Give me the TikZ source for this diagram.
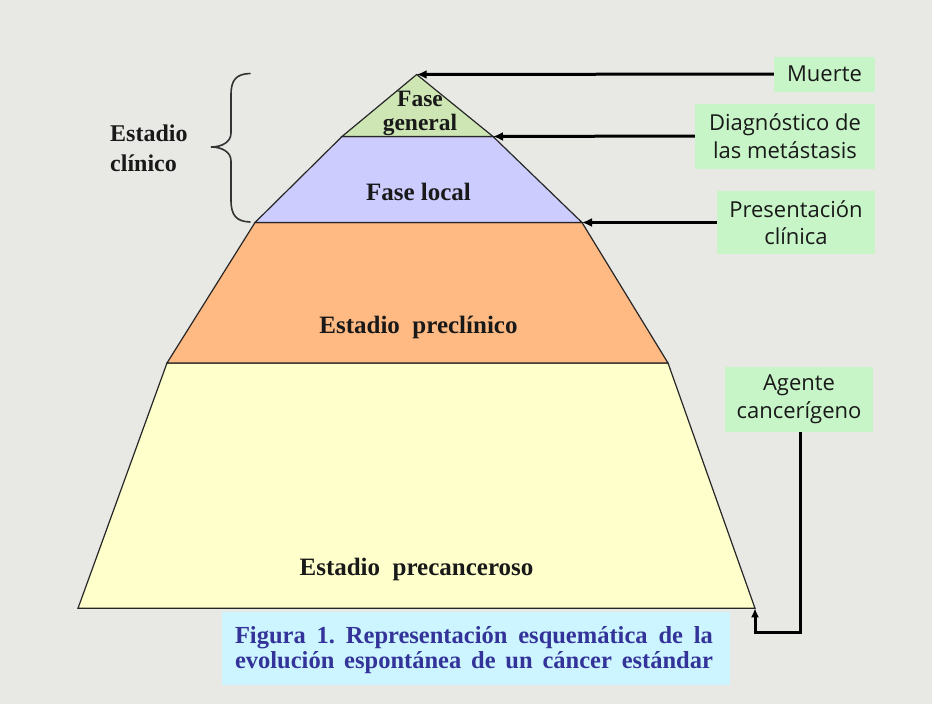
\documentclass[tikz,border=0pt]{standalone}
\usepackage{fontspec}
\setmainfont{Liberation Serif}
\newfontfamily\labfont{Open Sans}
\usetikzlibrary{arrows.meta}
\frenchspacing
\definecolor{bgc}{HTML}{E8E8E5}
\definecolor{cgen}{HTML}{CDE6B4}
\definecolor{cloc}{HTML}{CCCCFF}
\definecolor{cpre}{HTML}{FFB982}
\definecolor{ccan}{HTML}{FFFFCC}
\definecolor{clab}{HTML}{C8F5C8}
\definecolor{ccap}{HTML}{CCF5FF}
\definecolor{ctxt}{HTML}{333399}
\tikzset{
  layer/.style={draw=black!85, line width=1.2pt, line join=miter},
  stagetext/.style={font=\fontsize{25}{23}\selectfont\bfseries, text=black!90, align=center, anchor=base, inner sep=0pt},
  lab/.style={fill=clab, draw=none, font=\labfont\fontsize{22}{27.5}\selectfont, text=black!90, align=center, inner sep=0pt},
  conn/.style={line width=3pt, black, -{Latex[length=10pt,width=9pt]}},
}
\begin{document}
\begin{tikzpicture}[x=1pt,y=-1pt]
\fill[bgc] (0,0) rectangle (932,704);
\useasboundingbox (0,0) rectangle (932,704);
% pyramid corners
\coordinate (A) at (416.7,74.5);
\coordinate (GL) at (342,136.5);
\coordinate (GR) at (493,136.5);
\coordinate (LL) at (255,222.5);
\coordinate (LR) at (582,222.5);
\coordinate (PL) at (167,363);
\coordinate (PR) at (668,363);
\coordinate (BL) at (78,608.3);
\coordinate (BR) at (755,608.3);
\filldraw[layer, fill=ccan] (PL) -- (PR) -- (BR) -- (BL) -- cycle;
\filldraw[layer, fill=cpre] (LL) -- (LR) -- (PR) -- (PL) -- cycle;
\filldraw[layer, fill=cloc] (GL) -- (GR) -- (LR) -- (LL) -- cycle;
\filldraw[layer, fill=cgen] (A) -- (GR) -- (GL) -- cycle;
% stage texts
\node[stagetext, font=\fontsize{23.5}{23.3}\selectfont\bfseries] (tgen) at (420,130) {Fase\\general};
\node[stagetext] (tloc) at (418.5,200) {Fase local};
\node[stagetext] (tpre) at (418.5,333) {Estadio\ \ preclínico};
\node[stagetext] (tcan) at (416.5,575) {Estadio\ \ precanceroso};
% estadio clinico
\node[stagetext, align=left, anchor=base west, font=\fontsize{24}{30}\selectfont\bfseries] (tcli) at (110,171.7) {Estadio\\clínico};
\draw[line width=1.6pt, black!80, line cap=round]
  (250,73.5) .. controls (236,74) and (231,80) .. (231,95)
  -- (231,133) .. controls (231,142) and (222,147) .. (211,147)
  .. controls (222,147) and (231,152) .. (231,161)
  -- (231,200) .. controls (231,215) and (236,221.5) .. (250,222);
% labels
\node[lab, minimum width=101pt, minimum height=35pt] (muerte) at (824.5,74) {Muerte};
\node[lab, minimum width=180pt, minimum height=65pt] (diag) at (785,136) {Diagnóstico de\\las metástasis};
\node[lab, minimum width=158pt, minimum height=63pt] (pres) at (796,222.5) {Presentación\\clínica};
\node[lab, minimum width=148pt, minimum height=65pt] (agen) at (799,399.5) {Agente\\cancerígeno};
% arrows
\draw[conn] (muerte.west) -- (A);
\draw[conn] (diag.west) -- (GR);
\draw[conn] (pres.west) -- (LR);
\coordinate (k1) at (800,632.7);
\coordinate (k2) at (755,632.7);
\draw[conn, -{Latex[length=9pt,width=8pt]}, line join=miter] (agen.south -| k1) -- (k1) -- (k2) -- (BR);
% caption
\node[fill=ccap, minimum width=508pt, minimum height=73pt, inner sep=0pt] (capbox) at (476,648.5) {};
\node[anchor=base, inner sep=0pt, text=ctxt, font=\fontsize{24.5}{25.5}\selectfont\bfseries, align=center] (cap) at (474,668.5)
  {\makebox[478pt][s]{Figura 1. Representación esquemática de la}\\
   \makebox[478pt][s]{evolución espontánea de un cáncer estándar}};
\end{tikzpicture}
\end{document}
